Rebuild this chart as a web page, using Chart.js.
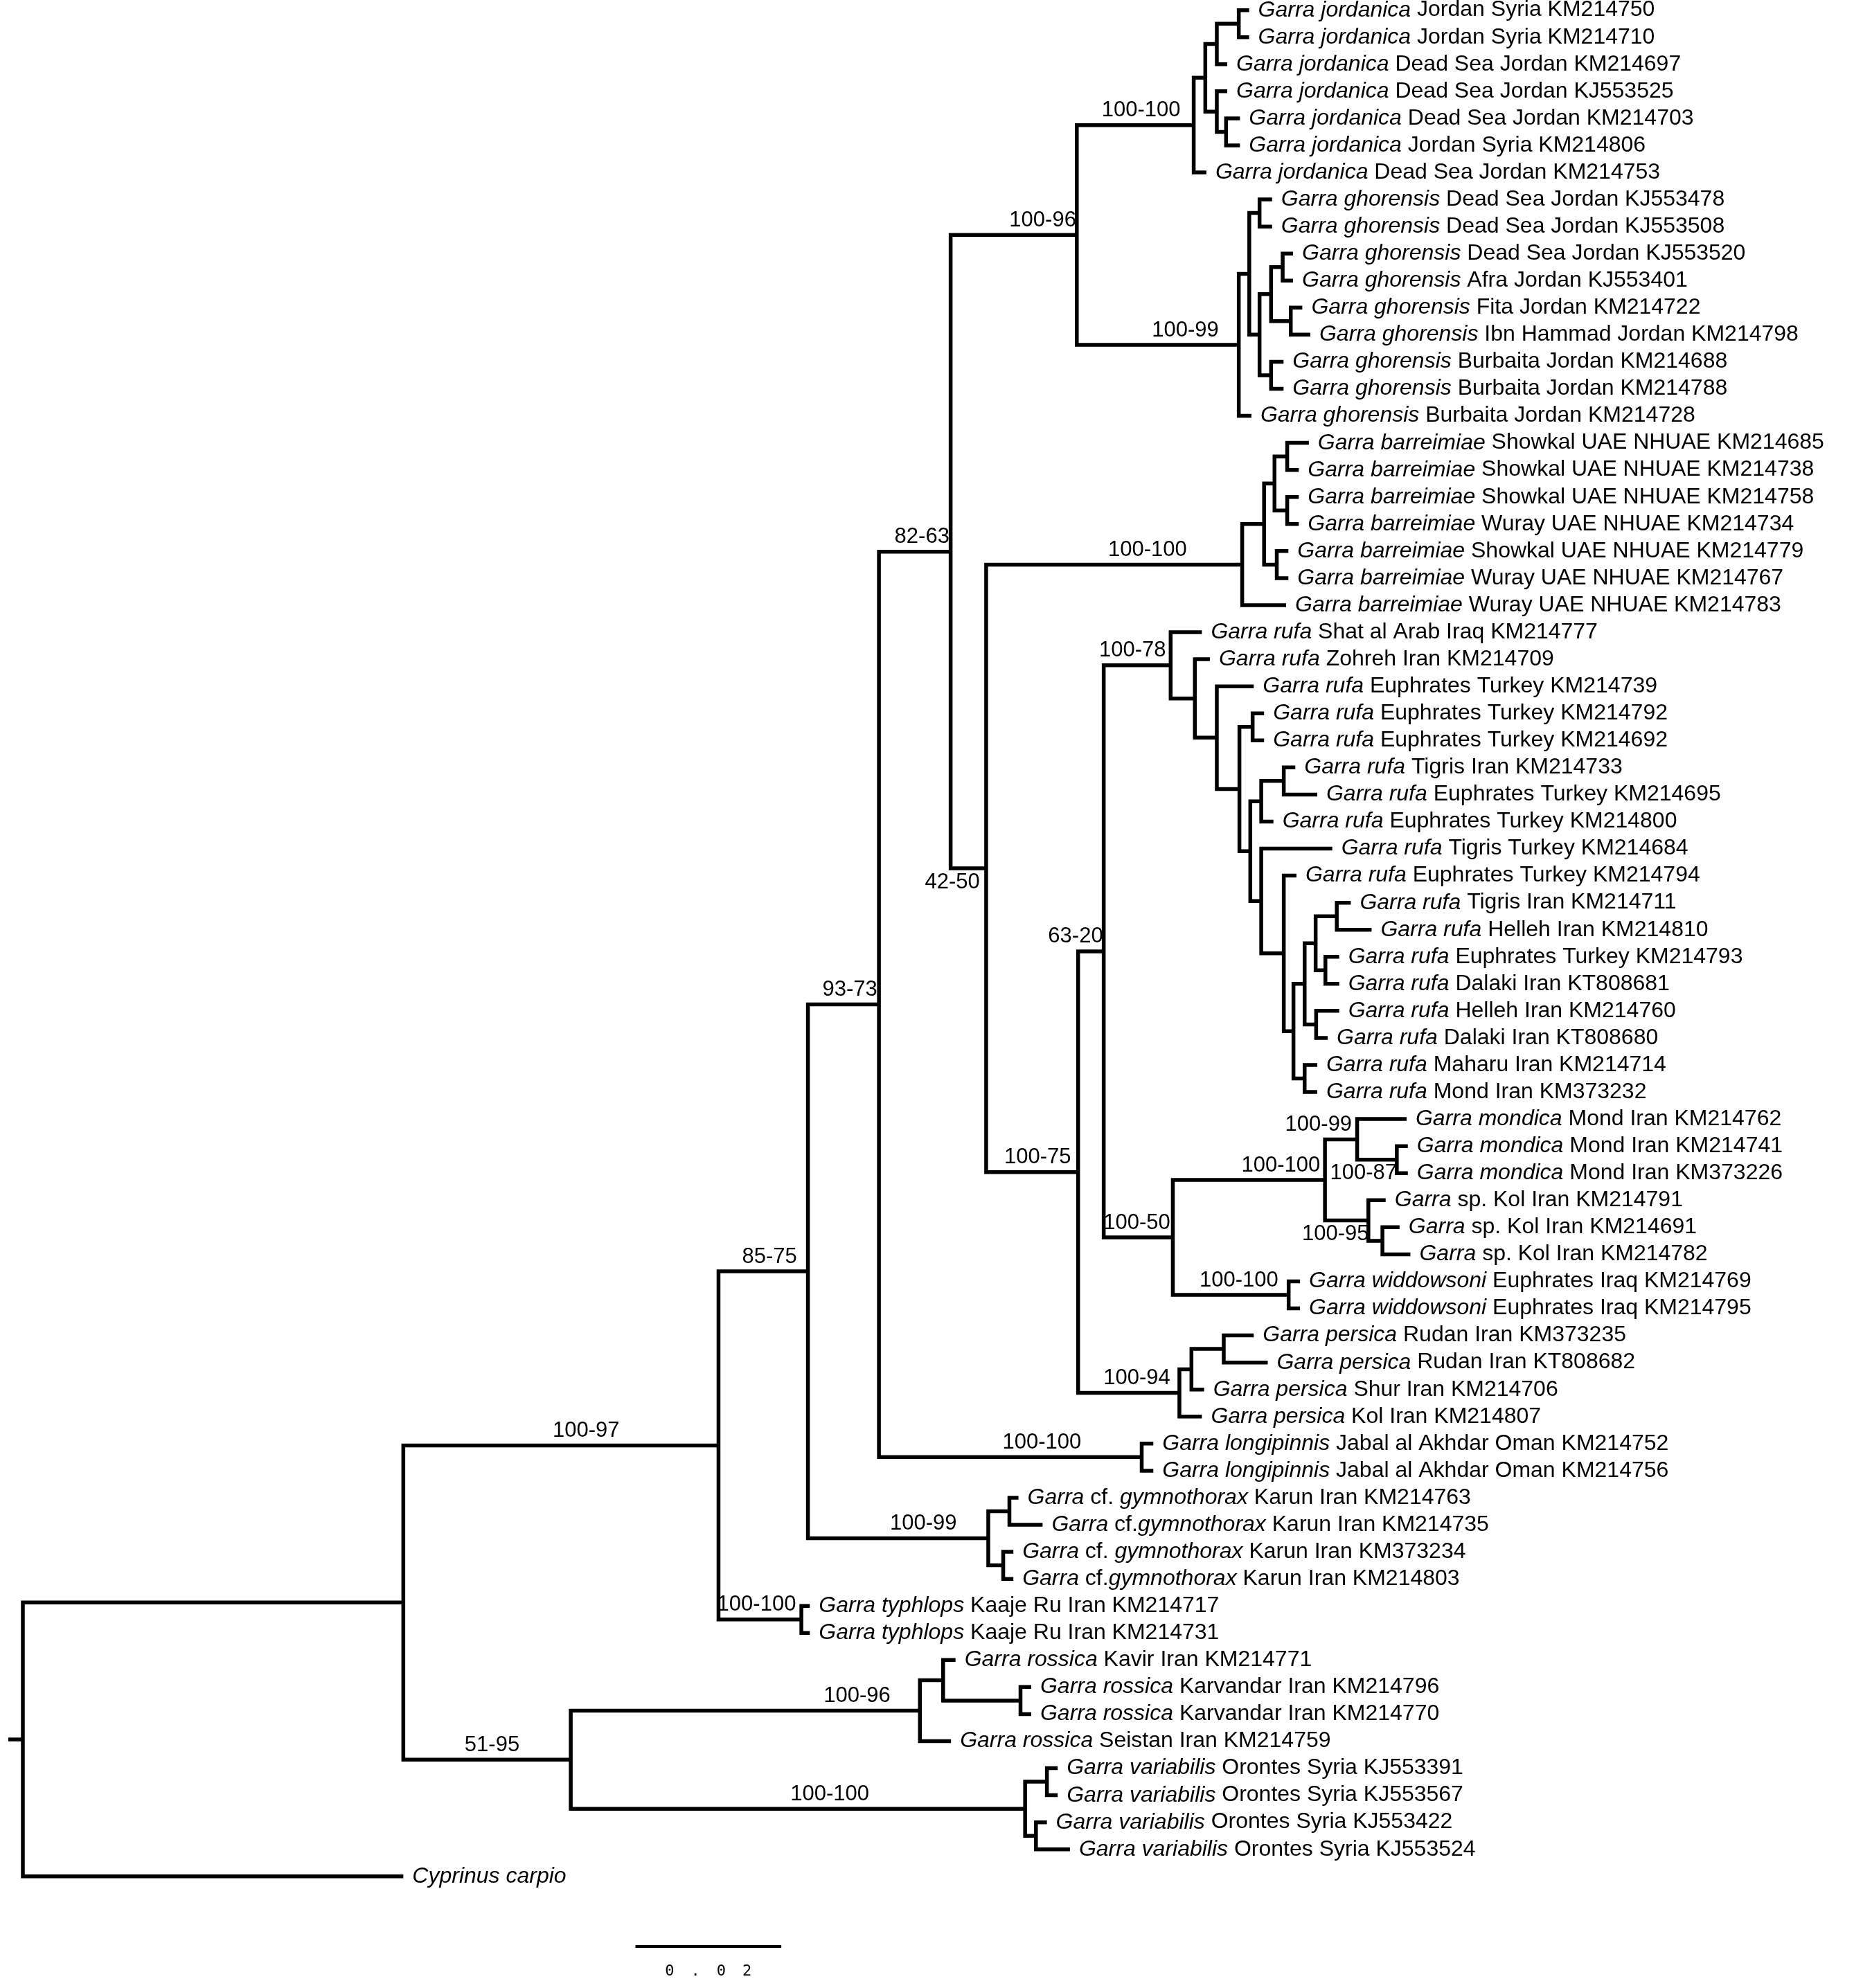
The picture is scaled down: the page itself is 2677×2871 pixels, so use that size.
<!DOCTYPE html>
<html>
<head>
<meta charset="utf-8">
<script src="https://cdn.jsdelivr.net/npm/chart.js@4.4.1/dist/chart.umd.min.js"></script>
<style>
  html, body { margin: 0; padding: 0; background: #fff; }
  canvas { display: block; }
</style>
</head>
<body>
<canvas id="tree" width="2677" height="2871"></canvas>
<script>
// Tip labels, top to bottom (text between * is italic)
const taxa = [
    '*Garra jordanica* Jordan Syria KM214750',
    '*Garra jordanica* Jordan Syria KM214710',
    '*Garra jordanica* Dead Sea Jordan KM214697',
    '*Garra jordanica* Dead Sea Jordan KJ553525',
    '*Garra jordanica* Dead Sea Jordan KM214703',
    '*Garra jordanica* Jordan Syria KM214806',
    '*Garra jordanica* Dead Sea Jordan KM214753',
    '*Garra ghorensis* Dead Sea Jordan KJ553478',
    '*Garra ghorensis* Dead Sea Jordan KJ553508',
    '*Garra ghorensis* Dead Sea Jordan KJ553520',
    '*Garra ghorensis* Afra Jordan KJ553401',
    '*Garra ghorensis* Fita Jordan KM214722',
    '*Garra ghorensis* Ibn Hammad Jordan KM214798',
    '*Garra ghorensis* Burbaita Jordan KM214688',
    '*Garra ghorensis* Burbaita Jordan KM214788',
    '*Garra ghorensis* Burbaita Jordan KM214728',
    '*Garra barreimiae* Showkal UAE NHUAE KM214685',
    '*Garra barreimiae* Showkal UAE NHUAE KM214738',
    '*Garra barreimiae* Showkal UAE NHUAE KM214758',
    '*Garra barreimiae* Wuray UAE NHUAE KM214734',
    '*Garra barreimiae* Showkal UAE NHUAE KM214779',
    '*Garra barreimiae* Wuray UAE NHUAE KM214767',
    '*Garra barreimiae* Wuray UAE NHUAE KM214783',
    '*Garra rufa* Shat al Arab Iraq KM214777',
    '*Garra rufa* Zohreh Iran KM214709',
    '*Garra rufa* Euphrates Turkey KM214739',
    '*Garra rufa* Euphrates Turkey KM214792',
    '*Garra rufa* Euphrates Turkey KM214692',
    '*Garra rufa* Tigris Iran KM214733',
    '*Garra rufa* Euphrates Turkey KM214695',
    '*Garra rufa* Euphrates Turkey KM214800',
    '*Garra rufa* Tigris Turkey KM214684',
    '*Garra rufa* Euphrates Turkey KM214794',
    '*Garra rufa* Tigris Iran KM214711',
    '*Garra rufa* Helleh Iran KM214810',
    '*Garra rufa* Euphrates Turkey KM214793',
    '*Garra rufa* Dalaki Iran KT808681',
    '*Garra rufa* Helleh Iran KM214760',
    '*Garra rufa* Dalaki Iran KT808680',
    '*Garra rufa* Maharu Iran KM214714',
    '*Garra rufa* Mond Iran KM373232',
    '*Garra mondica* Mond Iran KM214762',
    '*Garra mondica* Mond Iran KM214741',
    '*Garra mondica* Mond Iran KM373226',
    '*Garra* sp. Kol Iran KM214791',
    '*Garra* sp. Kol Iran KM214691',
    '*Garra* sp. Kol Iran KM214782',
    '*Garra widdowsoni* Euphrates Iraq KM214769',
    '*Garra widdowsoni* Euphrates Iraq KM214795',
    '*Garra persica* Rudan Iran KM373235',
    '*Garra persica* Rudan Iran KT808682',
    '*Garra persica* Shur Iran KM214706',
    '*Garra persica* Kol Iran KM214807',
    '*Garra longipinnis* Jabal al Akhdar Oman KM214752',
    '*Garra longipinnis* Jabal al Akhdar Oman KM214756',
    '*Garra* cf. *gymnothorax* Karun Iran KM214763',
    '*Garra* cf.*gymnothorax* Karun Iran KM214735',
    '*Garra* cf. *gymnothorax* Karun Iran KM373234',
    '*Garra* cf.*gymnothorax* Karun Iran KM214803',
    '*Garra typhlops* Kaaje Ru Iran KM214717',
    '*Garra typhlops* Kaaje Ru Iran KM214731',
    '*Garra rossica* Kavir Iran KM214771',
    '*Garra rossica* Karvandar Iran KM214796',
    '*Garra rossica* Karvandar Iran KM214770',
    '*Garra rossica* Seistan Iran KM214759',
    '*Garra variabilis* Orontes Syria KJ553391',
    '*Garra variabilis* Orontes Syria KJ553567',
    '*Garra variabilis* Orontes Syria KJ553422',
    '*Garra variabilis* Orontes Syria KJ553524',
    '*Cyprinus carpio*'
];

// distance of each tip from the root (substitutions per site)
const tipDepth = [
    0.16815, 0.16815, 0.16515, 0.16515, 0.16689, 0.16689, 0.16229,
    0.17130, 0.17130, 0.17417, 0.17417, 0.17544, 0.17654, 0.17287, 0.17287, 0.16846,
    0.17634, 0.17496, 0.17496, 0.17496, 0.17353, 0.17353, 0.17322,
    0.16167, 0.16277, 0.16878, 0.17020, 0.17020, 0.17448, 0.17749, 0.17148, 0.17955,
    0.17464, 0.18209, 0.18494, 0.18050, 0.18050, 0.18050, 0.17892, 0.17749, 0.17749,
    0.18974, 0.18991, 0.18991, 0.18687, 0.18878, 0.19026, 0.17513, 0.17513,
    0.16878, 0.17070, 0.16198, 0.16167, 0.15501, 0.15501,
    0.13652, 0.13983, 0.13582, 0.13582, 0.10791, 0.10791,
    0.12789, 0.13827, 0.13827, 0.12727, 0.14190, 0.14190, 0.14042, 0.14358,
    0.05217
];

// internal nodes: id, depth from root, children (number = tip row, string = node id), support
const nodeIds = [
    'root', 'ingroup', 'a97', 'typh', 'a85', 'gym', 'gy1', 'gy2', 'a93', 'longi',
    'a82', 'a96', 'jord', 'j1', 'j2', 'j4', 'j3', 'j5', 'ghor', 'g1',
    'g2', 'g3', 'g4', 'g6', 'g7', 'g5', 'a42', 'barr', 'b_a', 'b_b',
    'b_d', 'b_e', 'b_c', 'a75', 'pers', 'p1', 'p2', 'a63', 'rufa', 'r1',
    'r2', 'r3', 'r4', 'q7', 'q6', 'p28', 'q5', 'q4', 'q3', 'q2',
    'q1', 'p33', 'p35', 'p37', 'p39', 'a50', 'ms', 'mond', 'm2', 'spk',
    's2', 'widd', 'a51', 'ross', 'ro1', 'ro2', 'vari', 'v1', 'v2'
];
const nodeDepth = [
    0, 0.05217, 0.09539, 0.10675, 0.10765, 0.13238, 0.13528, 0.13443, 0.11739, 0.15342,
    0.12722, 0.14452, 0.16055, 0.16214, 0.16372, 0.16673, 0.16372, 0.16499, 0.16673, 0.16817,
    0.16958, 0.16958, 0.17116, 0.17275, 0.17386, 0.17116, 0.13209, 0.16720, 0.17020, 0.17163,
    0.17337, 0.17337, 0.17194, 0.14470, 0.15859, 0.16024, 0.16467, 0.14821, 0.15739, 0.16071,
    0.16372, 0.16682, 0.16863, 0.16831, 0.16981, 0.17290, 0.16981, 0.17290, 0.17423, 0.17576,
    0.17727, 0.18017, 0.17861, 0.17734, 0.17576, 0.15769, 0.17855, 0.18296, 0.18840, 0.18450,
    0.18643, 0.17357, 0.07513, 0.12301, 0.12619, 0.13680, 0.13743, 0.14042, 0.13892
];
const nodeKids = [
    ['ingroup', 69], ['a97', 'a51'], ['a85', 'typh'], [59, 60], ['a93', 'gym'],
    ['gy1', 'gy2'], [55, 56], [57, 58], ['a82', 'longi'], [53, 54],
    ['a96', 'a42'], ['jord', 'ghor'], ['j1', 6], ['j2', 'j3'], ['j4', 2],
    [0, 1], [3, 'j5'], [4, 5], ['g1', 15], ['g2', 'g3'],
    [7, 8], ['g4', 'g5'], ['g6', 'g7'], [9, 10], [11, 12],
    [13, 14], ['barr', 'a75'], ['b_a', 22], ['b_b', 'b_c'], ['b_d', 'b_e'],
    [16, 17], [18, 19], [20, 21], ['a63', 'pers'], ['p1', 52],
    ['p2', 51], [49, 50], ['rufa', 'a50'], [23, 'r1'], [24, 'r2'],
    [25, 'r3'], ['r4', 'q7'], [26, 27], ['q6', 'q5'], ['p28', 30],
    [28, 29], [31, 'q4'], [32, 'q3'], ['q2', 'p39'], ['q1', 'p37'],
    ['p33', 'p35'], [33, 34], [35, 36], [37, 38], [39, 40],
    ['ms', 'widd'], ['mond', 'spk'], [41, 'm2'], [42, 43], [44, 's2'],
    [45, 46], [47, 48], ['ross', 'vari'], ['ro1', 64], [61, 'ro2'],
    [62, 63], ['v1', 'v2'], [65, 66], [67, 68]
];
const nodeSupport = [
    '', '', '100-97', '100-100', '85-75', '100-99', '', '', '93-73', '100-100',
    '82-63', '100-96', '100-100', '', '', '', '', '', '100-99', '',
    '', '', '', '', '', '', '42-50', '100-100', '', '',
    '', '', '', '100-75', '100-94', '', '', '63-20', '100-78', '',
    '', '', '', '', '', '', '', '', '', '',
    '', '', '', '', '', '100-50', '100-100', '100-99', '100-87', '100-95',
    '', '100-100', '51-95', '100-96', '', '', '100-100', '', ''
];

const scaleBarLength = 0.02;
const scaleBarText = '0.02';

// ---- layout (not data) ----
const PX_PER_UNIT = 10530;   // pixels per substitution unit
const ROOT_PX = 33;
const ROW_PX = 39.06;
const TOP_PX = 14.65;
const W = 2677, H = 2871;
const LINE_W = 5.5;
const FONT = '"Liberation Sans", Arial, sans-serif';
// where each support label sits along its branch (fraction from parent) and above/below it
const labelPlace = {
    a97: [0.58], typh: [0.46], a85: [0.57], gym: [0.64], a93: [0.59], longi: [0.62],
    a82: [0.6], a96: [0.73], jord: [0.55], ghor: [0.67], a42: [0.05, 'below'],
    barr: [0.63], a75: [0.56], pers: [0.58], a63: [-0.1], rufa: [0.43], a50: [0.48],
    ms: [0.71], mond: [-0.2], m2: [0.16, 'below'], spk: [0.24, 'below'], widd: [0.57],
    a51: [0.53], ross: [0.82], vari: [0.57]
};
const scaleBarAt = { x: 0.0840, y: 71.59, textY: 72.51 };

// ---- build node positions (node y = middle of first and last child) ----
const nodeIndex = {};
nodeIds.forEach((id, i) => { nodeIndex[id] = i; });
const parentOf = {};
nodeKids.forEach((kids, i) => kids.forEach(k => { parentOf[k] = nodeIds[i]; }));
const placed = {};
function place(ref) {
    if (typeof ref === 'number') return { x: tipDepth[ref], y: ref };
    if (!placed[ref]) {
        const i = nodeIndex[ref];
        const kids = nodeKids[i].map(place);
        placed[ref] = { x: nodeDepth[i], y: (kids[0].y + kids[kids.length - 1].y) / 2, kids: kids };
    }
    return placed[ref];
}
const rootPos = place('root');

const lineStyle = {
    showLine: true,
    borderColor: '#000',
    borderWidth: LINE_W,
    pointRadius: 0,
    pointHoverRadius: 0,
    borderCapStyle: 'butt',
    borderJoinStyle: 'miter',
    fill: false
};

const datasets = [];
nodeIds.forEach(id => {
    const n = placed[id];
    const first = n.kids[0], last = n.kids[n.kids.length - 1];
    datasets.push(Object.assign({
        data: [
            { x: first.x, y: first.y },
            { x: n.x, y: first.y },
            { x: n.x, y: last.y },
            { x: last.x, y: last.y }
        ]
    }, lineStyle));
    n.kids.slice(1, -1).forEach(k => {
        datasets.push(Object.assign({ data: [{ x: n.x, y: k.y }, { x: k.x, y: k.y }] }, lineStyle));
    });
});
// root stub
datasets.push(Object.assign({
    data: [{ x: -0.002, y: rootPos.y }, { x: 0, y: rootPos.y }]
}, lineStyle));
// scale bar
datasets.push(Object.assign({
    data: [{ x: scaleBarAt.x, y: scaleBarAt.y }, { x: scaleBarAt.x + scaleBarLength, y: scaleBarAt.y }]
}, lineStyle, { borderWidth: 4 }));

const treeText = {
    id: 'treeText',
    afterDatasetsDraw(chart) {
        const ctx = chart.ctx;
        const xs = chart.scales.x, ys = chart.scales.y;
        ctx.save();
        ctx.fillStyle = '#000';
        ctx.textBaseline = 'middle';

        // tip labels
        ctx.textAlign = 'left';
        taxa.forEach((t, i) => {
            let px = xs.getPixelForValue(tipDepth[i]) + 13;
            const py = ys.getPixelForValue(i);
            t.split('*').forEach((part, k) => {
                if (!part) return;
                ctx.font = (k % 2 ? 'italic ' : '') + '32px ' + FONT;
                ctx.fillText(part, px, py);
                px += ctx.measureText(part).width;
            });
        });

        // support values
        ctx.textAlign = 'center';
        ctx.font = '31px ' + FONT;
        nodeIds.forEach((id, i) => {
            if (!nodeSupport[i]) return;
            const n = placed[id];
            const p = placed[parentOf[id]];
            const where = labelPlace[id] || [0.6];
            const lx = p.x + where[0] * (n.x - p.x);
            const py = ys.getPixelForValue(n.y) + (where[1] === 'below' ? 20 : -21);
            ctx.fillText(nodeSupport[i], xs.getPixelForValue(lx), py);
        });

        // scale bar text
        ctx.font = '22px "DejaVu Sans Mono", monospace';
        ctx.letterSpacing = '24px';
        const sx = xs.getPixelForValue(scaleBarAt.x + scaleBarLength / 2) + 12;
        ctx.fillText(scaleBarText, sx, ys.getPixelForValue(scaleBarAt.textY));
        ctx.restore();
    }
};

const xMin = -ROOT_PX / PX_PER_UNIT;
const yMin = -TOP_PX / ROW_PX;

new Chart(document.getElementById('tree'), {
    type: 'scatter',
    data: { datasets: datasets },
    options: {
        responsive: false,
        animation: false,
        devicePixelRatio: 1,
        layout: { padding: 0 },
        events: [],
        plugins: {
            legend: { display: false },
            tooltip: { enabled: false }
        },
        scales: {
            x: { type: 'linear', display: false, min: xMin, max: xMin + W / PX_PER_UNIT },
            y: { type: 'linear', display: false, reverse: true, min: yMin, max: yMin + H / ROW_PX }
        }
    },
    plugins: [treeText]
});
</script>
</body>
</html>
